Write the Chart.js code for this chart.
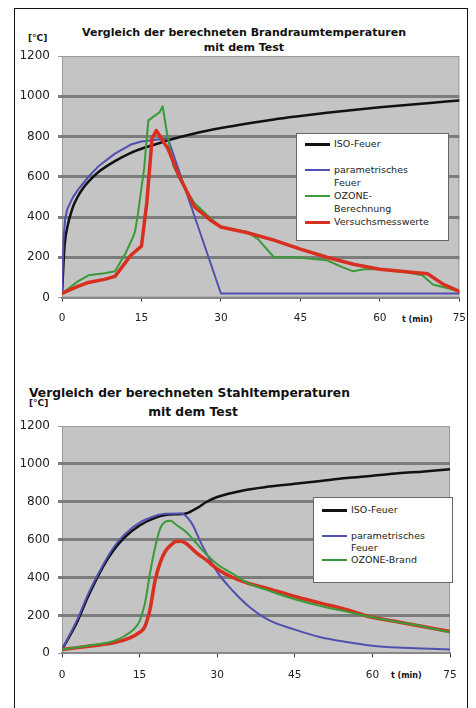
<!DOCTYPE html>
<html>
<head>
<meta charset="utf-8">
<script src="https://cdn.jsdelivr.net/npm/chart.js@4.4.1/dist/chart.umd.min.js"></script>
<style>
  body { margin: 0; background: #fff; font-family: 'DejaVu Sans', sans-serif; }
  #page { position: relative; width: 476px; height: 708px; overflow: hidden; }
  .abs { position: absolute; white-space: nowrap; color: #111; }
  .ttl { font-weight: bold; }
  .lgd { position: absolute; background: #fff; border: 1px solid #666; font-size: 9.5px; color: #222; }
  .lgd .row { position: absolute; left: 0; height: 13px; line-height: 13px; }
  .lgd .sw { position: absolute; left: 8px; width: 25px; top: 6px; }
  .lgd .tx { position: absolute; left: 37px; top: 0; white-space: nowrap; }
  canvas { position: absolute; left: 0; }
</style>
</head>
<body>
<div id="page">
  <div class="abs" style="left:14px;top:8px;width:452px;height:720px;border:1.5px solid #111;"></div>

  <div class="abs ttl" style="left:44px;top:26px;width:400px;text-align:center;font-size:11px;line-height:14px;">Vergleich der berechneten Brandraumtemperaturen</div>
  <div class="abs ttl" style="left:44px;top:41px;width:400px;text-align:center;font-size:11px;line-height:14px;">mit dem Test</div>
  <div class="abs ttl" style="left:28px;top:32px;font-size:9px;line-height:12px;">[°C]</div>
  <div class="abs ttl" style="left:402px;top:314px;font-size:8px;line-height:12px;">t (min)</div>

  <div class="abs ttl" style="left:29px;top:385px;font-size:12.3px;line-height:16px;">Vergleich der berechneten Stahltemperaturen</div>
  <div class="abs ttl" style="left:93px;top:404px;width:200px;text-align:center;font-size:12.3px;line-height:16px;">mit dem Test</div>
  <div class="abs ttl" style="left:29px;top:397px;font-size:9px;line-height:12px;">[°C]</div>
  <div class="abs ttl" style="left:391px;top:670px;font-size:8px;line-height:12px;">t (min)</div>

  <canvas id="c1" width="476" height="300" style="top:40px;"></canvas>
  <canvas id="c2" width="476" height="298" style="top:410px;"></canvas>

  <div class="lgd" style="left:296px;top:133px;width:151px;height:106px;">
    <div class="row" style="top:3px;"><div class="sw" style="border-top:3px solid #111;"></div><div class="tx">ISO-Feuer</div></div>
    <div class="row" style="top:29px;"><div class="sw" style="border-top:2px solid #5050b0;"></div><div class="tx">parametrisches</div></div>
    <div class="row" style="top:42px;"><div class="tx">Feuer</div></div>
    <div class="row" style="top:55px;"><div class="sw" style="border-top:2px solid #3a9a3a;"></div><div class="tx">OZONE-</div></div>
    <div class="row" style="top:68px;"><div class="tx">Berechnung</div></div>
    <div class="row" style="top:81px;"><div class="sw" style="border-top:3px solid #d83020;"></div><div class="tx">Versuchsmesswerte</div></div>
  </div>

  <div class="lgd" style="left:313px;top:497px;width:138px;height:84px;">
    <div class="row" style="top:5px;"><div class="sw" style="border-top:3px solid #111;"></div><div class="tx">ISO-Feuer</div></div>
    <div class="row" style="top:31px;"><div class="sw" style="border-top:2px solid #5050b0;"></div><div class="tx">parametrisches</div></div>
    <div class="row" style="top:43px;"><div class="tx">Feuer</div></div>
    <div class="row" style="top:55px;"><div class="sw" style="border-top:2px solid #3a9a3a;"></div><div class="tx">OZONE-Brand</div></div>
  </div>
</div>

<script>
// --- Brandraumtemperaturen (oben) ---
const isoT1 = [0, 0.5, 1, 2, 3, 4, 5, 7, 10, 13, 15, 18, 20, 25, 30, 35, 40, 45, 50, 55, 60, 65, 70, 75]
const isoV1 = [20, 260, 349, 445, 502, 544, 576, 626, 678, 719, 739, 764, 781, 815, 842, 865, 885, 902, 918, 932, 945, 957, 968, 979]

const parT1 = [0, 0.3, 0.6, 1, 2, 3, 5, 7, 10, 13, 15, 18, 20, 30, 75]
const parV1 = [20, 300, 390, 440, 495, 535, 600, 655, 715, 760, 775, 785, 790, 20, 20]

const ozT1 = [0, 3, 5, 8, 10, 12, 13.4, 13.8, 14.3, 15.5, 16.3, 17.6, 18.4, 19, 19.8, 21, 22.6, 25, 28, 30, 33, 35, 37, 40, 44, 50, 53, 55, 57, 60, 65, 68, 70, 73, 75]
const ozV1 = [20, 80, 110, 120, 130, 220, 300, 330, 410, 640, 880, 905, 920, 950, 820, 655, 570, 470, 395, 350, 335, 325, 290, 200, 200, 185, 150, 130, 140, 140, 125, 110, 65, 45, 30]

const vsT1 = [0, 3, 5, 8, 10, 11, 13, 15, 16, 17, 17.8, 19, 20, 22, 25, 28, 30, 35, 40, 45, 50, 55, 60, 65, 69, 72, 75]
const vsV1 = [20, 55, 75, 90, 105, 140, 210, 255, 470, 790, 830, 780, 740, 610, 450, 385, 350, 322, 285, 240, 200, 165, 140, 128, 118, 65, 30]

// --- Stahltemperaturen (unten) ---
const isoT2 = [0, 3, 5, 8, 10, 12, 15, 18, 20, 23, 24, 26, 28, 30, 35, 40, 45, 50, 55, 60, 65, 70, 75]
const isoV2 = [20, 170, 297, 460, 545, 610, 675, 715, 730, 735, 738, 765, 800, 825, 860, 880, 895, 910, 925, 937, 950, 960, 972]

const parT2 = [0, 3, 5, 8, 10, 12, 15, 18, 20, 23, 25, 27, 30, 33, 36, 40, 45, 50, 55, 60, 65, 70, 75]
const parV2 = [20, 180, 310, 470, 560, 625, 690, 725, 737, 738, 690, 575, 430, 330, 250, 175, 125, 85, 60, 40, 30, 25, 20]

const ozT2 = [0, 5, 10, 12, 14, 15, 16, 17, 18, 19, 20, 21, 22, 24, 26, 28, 30, 33, 36, 40, 45, 50, 55, 60, 65, 70, 75]
const ozV2 = [20, 40, 65, 90, 130, 170, 260, 420, 560, 660, 695, 700, 680, 640, 580, 520, 470, 420, 370, 330, 285, 250, 220, 190, 165, 140, 110]

const vsT2 = [0, 3, 6, 10, 13, 15, 16, 17, 18, 19, 20, 21, 22, 23, 24, 26, 28, 30, 33, 36, 40, 45, 50, 55, 60, 65, 70, 75]
const vsV2 = [20, 30, 40, 55, 80, 110, 140, 230, 385, 480, 540, 570, 590, 592, 580, 530, 490, 445, 400, 370, 340, 300, 265, 230, 190, 165, 140, 115]

const xTicks = [0, 15, 30, 45, 60, 75]
const yTicks = [0, 200, 400, 600, 800, 1000, 1200]

const pts = (ts, vs) => ts.map((t, i) => ({ x: t, y: vs[i] }))

const plotBackground = {
  id: 'plotBackground',
  beforeDraw(chart) {
    const { ctx, chartArea: { left, top, width, height } } = chart
    ctx.save()
    ctx.fillStyle = '#c4c4c4'
    ctx.fillRect(left, top, width, height)
    ctx.strokeStyle = '#9a9a9a'
    ctx.lineWidth = 1
    ctx.strokeRect(left + 0.5, top + 0.5, width - 1, height - 1)
    ctx.restore()
  },
}

function makeChart(id, datasets, pad, xHeight, xPad, smooth) {
  return new Chart(document.getElementById(id), {
    type: 'line',
    data: { datasets },
    options: {
      responsive: false,
      animation: false,
      layout: { padding: pad },
      elements: {
        point: { radius: 0 },
        line: { tension: smooth ? 0.4 : 0, cubicInterpolationMode: smooth ? 'monotone' : 'default', borderCapStyle: 'round', borderJoinStyle: 'round' },
      },
      plugins: { legend: { display: false }, tooltip: { enabled: false } },
      scales: {
        x: {
          type: 'linear',
          min: 0,
          max: 75,
          afterBuildTicks: (s) => { s.ticks = xTicks.map((v) => ({ value: v })) },
          afterFit: (s) => { s.height = xHeight },
          ticks: { color: '#222', font: { family: "'DejaVu Sans'", size: 10.5 }, padding: xPad, maxRotation: 0, callback: (v) => String(v) },
          grid: { drawOnChartArea: false, tickLength: 4, color: '#333', lineWidth: 1 },
          border: { color: '#888', width: 2 },
        },
        y: {
          min: 0,
          max: 1200,
          afterBuildTicks: (s) => { s.ticks = yTicks.map((v) => ({ value: v })) },
          afterFit: (s) => { s.width = 62 },
          ticks: { color: '#222', font: { family: "'DejaVu Sans'", size: 12 }, padding: 8, callback: (v) => String(v) },
          grid: {
            tickLength: 4,
            color: (c) => (c.tick.value === 0 || c.tick.value === 1200 ? '#9a9a9a' : '#7c7c7c'),
            lineWidth: (c) => (c.tick.value === 0 || c.tick.value === 1200 ? 1 : 3),
          },
          border: { display: false },
        },
      },
    },
    plugins: [plotBackground],
  })
}

makeChart('c1', [
  { label: 'Versuchsmesswerte', data: pts(vsT1, vsV1), borderColor: '#d83020', borderWidth: 3.5 },
  { label: 'OZONE-Berechnung', data: pts(ozT1, ozV1), borderColor: '#3a9a3a', borderWidth: 2 },
  { label: 'parametrisches Feuer', data: pts(parT1, parV1), borderColor: '#5050b0', borderWidth: 2 },
  { label: 'ISO-Feuer', data: pts(isoT1, isoV1), borderColor: '#111', borderWidth: 2.5, tension: 0.4, cubicInterpolationMode: 'monotone' },
], { top: 16, right: 16, left: 0, bottom: 0 }, 42.5, 10, false)

makeChart('c2', [
  { label: 'OZONE-Brand', data: pts(ozT2, ozV2), borderColor: '#3a9a3a', borderWidth: 2 },
  { label: 'Versuchsmesswerte', data: pts(vsT2, vsV2), borderColor: '#d83020', borderWidth: 3.5 },
  { label: 'parametrisches Feuer', data: pts(parT2, parV2), borderColor: '#5050b0', borderWidth: 2 },
  { label: 'ISO-Feuer', data: pts(isoT2, isoV2), borderColor: '#111', borderWidth: 2.5 },
], { top: 16, right: 26, left: 0, bottom: 0 }, 54.7, 12, true)
</script>
</body>
</html>
